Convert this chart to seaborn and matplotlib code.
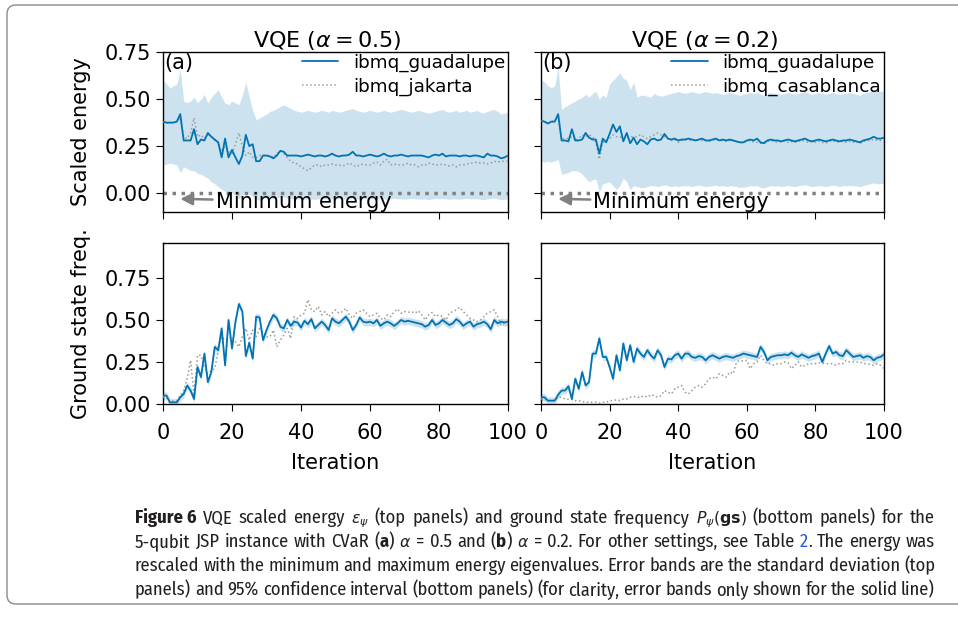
import matplotlib
matplotlib.use("Agg")
import matplotlib.pyplot as plt
import seaborn as sns
from matplotlib import font_manager
from matplotlib.patches import FancyBboxPatch
from matplotlib.lines import Line2D

# ---------------- data ----------------
iterations = list(range(101))

energy_a_guadalupe = [
    0.38, 0.375, 0.375, 0.375, 0.38, 0.42, 0.28, 0.28, 0.28, 0.34,
    0.26, 0.285, 0.28, 0.32, 0.30, 0.285, 0.27, 0.19, 0.29, 0.19,
    0.23, 0.19, 0.155, 0.20, 0.31, 0.25, 0.26, 0.17, 0.17, 0.20,
    0.20, 0.195, 0.185, 0.20, 0.225, 0.22, 0.20, 0.20, 0.20, 0.20,
    0.195, 0.20, 0.205, 0.20, 0.195, 0.20, 0.20, 0.195, 0.20, 0.21,
    0.20, 0.195, 0.20, 0.20, 0.205, 0.22, 0.20, 0.20, 0.195, 0.20,
    0.205, 0.20, 0.195, 0.20, 0.21, 0.20, 0.195, 0.20, 0.20, 0.205,
    0.20, 0.195, 0.20, 0.20, 0.20, 0.20, 0.195, 0.19, 0.20, 0.205,
    0.20, 0.21, 0.195, 0.20, 0.20, 0.20, 0.195, 0.20, 0.20, 0.195,
    0.20, 0.20, 0.195, 0.19, 0.21, 0.20, 0.20, 0.195, 0.185, 0.19,
    0.20]
energy_a_upper = [
    0.60, 0.58, 0.56, 0.57, 0.58, 0.66, 0.49, 0.48, 0.49, 0.51,
    0.48, 0.50, 0.525, 0.48, 0.51, 0.53, 0.55, 0.51, 0.48, 0.47,
    0.49, 0.48, 0.47, 0.52, 0.59, 0.51, 0.44, 0.39, 0.40, 0.41,
    0.42, 0.435, 0.44, 0.45, 0.46, 0.47, 0.46, 0.45, 0.44, 0.435,
    0.43, 0.435, 0.44, 0.435, 0.43, 0.435, 0.44, 0.435, 0.43, 0.44,
    0.435, 0.43, 0.435, 0.44, 0.445, 0.45, 0.44, 0.435, 0.43, 0.435,
    0.44, 0.435, 0.43, 0.435, 0.44, 0.435, 0.43, 0.435, 0.44, 0.445,
    0.44, 0.435, 0.43, 0.435, 0.44, 0.435, 0.43, 0.425, 0.43, 0.435,
    0.44, 0.445, 0.435, 0.43, 0.435, 0.44, 0.43, 0.435, 0.44, 0.43,
    0.435, 0.44, 0.43, 0.425, 0.435, 0.44, 0.445, 0.435, 0.42, 0.425,
    0.43]
energy_a_lower = [
    0.15, 0.155, 0.16, 0.155, 0.15, 0.11, 0.14, 0.13, 0.12, 0.12,
    0.105, 0.10, 0.09, 0.08, 0.06, 0.05, 0.035, 0.02, 0.01, 0.005,
    0.0, -0.01, -0.03, -0.01, 0.015, -0.005, -0.02, -0.03, -0.04, -0.03,
    -0.02, -0.025, -0.03, -0.025, -0.02, -0.02, -0.025, -0.03, -0.03, -0.03,
    -0.03, -0.032, -0.028, -0.03, -0.033, -0.03, -0.028, -0.03, -0.032, -0.03,
    -0.03, -0.028, -0.03, -0.032, -0.03, -0.025, -0.03, -0.032, -0.03, -0.028,
    -0.03, -0.032, -0.03, -0.028, -0.03, -0.033, -0.03, -0.028, -0.03, -0.03,
    -0.032, -0.03, -0.028, -0.03, -0.03, -0.032, -0.03, -0.035, -0.03, -0.028,
    -0.03, -0.028, -0.03, -0.032, -0.03, -0.03, -0.032, -0.03, -0.028, -0.03,
    -0.03, -0.03, -0.032, -0.035, -0.03, -0.028, -0.025, -0.03, -0.035, -0.033,
    -0.03]
energy_a_jakarta = [
    0.38, 0.375, 0.37, 0.375, 0.38, 0.40, 0.30, 0.29, 0.32, 0.40,
    0.30, 0.31, 0.29, 0.31, 0.30, 0.28, 0.27, 0.22, 0.25, 0.22,
    0.21, 0.26, 0.32, 0.25, 0.20, 0.22, 0.19, 0.19, 0.20, 0.20,
    0.20, 0.20, 0.19, 0.21, 0.225, 0.21, 0.19, 0.17, 0.16, 0.155,
    0.14, 0.13, 0.12, 0.135, 0.15, 0.15, 0.14, 0.15, 0.15, 0.155,
    0.15, 0.15, 0.145, 0.15, 0.16, 0.15, 0.14, 0.15, 0.155, 0.15,
    0.15, 0.16, 0.165, 0.15, 0.17, 0.18, 0.15, 0.155, 0.15, 0.15,
    0.15, 0.16, 0.15, 0.15, 0.14, 0.15, 0.15, 0.16, 0.155, 0.15,
    0.15, 0.155, 0.15, 0.145, 0.15, 0.14, 0.15, 0.15, 0.155, 0.16,
    0.16, 0.165, 0.16, 0.16, 0.155, 0.16, 0.17, 0.165, 0.17, 0.17,
    0.17]

energy_b_guadalupe = [
    0.385, 0.38, 0.37, 0.38, 0.38, 0.42, 0.28, 0.28, 0.275, 0.34,
    0.28, 0.28, 0.285, 0.32, 0.295, 0.285, 0.285, 0.21, 0.29, 0.27,
    0.315, 0.365, 0.325, 0.355, 0.275, 0.32, 0.265, 0.295, 0.26, 0.285,
    0.275, 0.26, 0.285, 0.29, 0.28, 0.285, 0.315, 0.29, 0.285, 0.29,
    0.28, 0.285, 0.285, 0.29, 0.285, 0.28, 0.285, 0.29, 0.28, 0.28,
    0.285, 0.29, 0.28, 0.285, 0.28, 0.285, 0.28, 0.275, 0.27, 0.27,
    0.28, 0.285, 0.28, 0.29, 0.27, 0.265, 0.28, 0.285, 0.28, 0.28,
    0.275, 0.28, 0.285, 0.28, 0.275, 0.28, 0.285, 0.29, 0.28, 0.275,
    0.28, 0.285, 0.28, 0.275, 0.28, 0.285, 0.28, 0.275, 0.28, 0.28,
    0.285, 0.28, 0.275, 0.27, 0.28, 0.285, 0.29, 0.30, 0.29, 0.29,
    0.295]
energy_b_upper = [
    0.605, 0.59, 0.57, 0.56, 0.57, 0.67, 0.445, 0.46, 0.47, 0.48,
    0.49, 0.50, 0.51, 0.525, 0.51, 0.53, 0.54, 0.50, 0.52, 0.51,
    0.58, 0.60, 0.62, 0.64, 0.61, 0.60, 0.55, 0.59, 0.51, 0.52,
    0.52, 0.515, 0.51, 0.53, 0.52, 0.515, 0.52, 0.525, 0.53, 0.535,
    0.54, 0.535, 0.53, 0.535, 0.54, 0.535, 0.53, 0.535, 0.54, 0.535,
    0.53, 0.535, 0.53, 0.525, 0.53, 0.535, 0.53, 0.525, 0.52, 0.525,
    0.53, 0.535, 0.53, 0.535, 0.525, 0.52, 0.53, 0.535, 0.53, 0.53,
    0.525, 0.53, 0.535, 0.53, 0.525, 0.53, 0.535, 0.54, 0.53, 0.525,
    0.53, 0.535, 0.53, 0.525, 0.53, 0.535, 0.53, 0.525, 0.53, 0.53,
    0.535, 0.53, 0.525, 0.52, 0.53, 0.535, 0.54, 0.55, 0.545, 0.54,
    0.545]
energy_b_lower = [
    0.17, 0.165, 0.17, 0.165, 0.17, 0.18, 0.10, 0.105, 0.11, 0.12,
    0.12, 0.115, 0.10, 0.08, 0.06, 0.07, 0.075, 0.005, 0.05, 0.055,
    0.06, 0.04, 0.02, 0.04, 0.08, 0.06, 0.02, 0.04, 0.035, 0.03,
    0.03, 0.035, 0.04, 0.04, 0.035, 0.04, 0.045, 0.04, 0.035, 0.04,
    0.035, 0.04, 0.038, 0.04, 0.035, 0.04, 0.042, 0.04, 0.035, 0.038,
    0.04, 0.042, 0.038, 0.04, 0.035, 0.04, 0.038, 0.035, 0.03, 0.032,
    0.035, 0.04, 0.038, 0.04, 0.03, 0.028, 0.035, 0.04, 0.038, 0.04,
    0.035, 0.038, 0.04, 0.038, 0.035, 0.04, 0.042, 0.045, 0.04, 0.035,
    0.038, 0.04, 0.038, 0.035, 0.04, 0.042, 0.04, 0.035, 0.04, 0.04,
    0.042, 0.04, 0.038, 0.035, 0.04, 0.045, 0.05, 0.055, 0.05, 0.05,
    0.055]
energy_b_casablanca = [
    0.385, 0.38, 0.37, 0.38, 0.385, 0.41, 0.29, 0.29, 0.29, 0.30,
    0.28, 0.29, 0.31, 0.30, 0.31, 0.30, 0.27, 0.18, 0.27, 0.28,
    0.29, 0.31, 0.30, 0.30, 0.29, 0.29, 0.30, 0.30, 0.30, 0.31,
    0.30, 0.29, 0.30, 0.31, 0.32, 0.31, 0.30, 0.29, 0.28, 0.285,
    0.27, 0.28, 0.285, 0.28, 0.28, 0.285, 0.28, 0.28, 0.28, 0.275,
    0.28, 0.285, 0.28, 0.28, 0.275, 0.28, 0.28, 0.275, 0.27, 0.27,
    0.275, 0.28, 0.27, 0.27, 0.265, 0.27, 0.275, 0.28, 0.275, 0.27,
    0.275, 0.28, 0.27, 0.275, 0.27, 0.275, 0.28, 0.275, 0.27, 0.275,
    0.27, 0.275, 0.27, 0.265, 0.275, 0.28, 0.27, 0.275, 0.275, 0.27,
    0.275, 0.27, 0.275, 0.265, 0.275, 0.28, 0.28, 0.285, 0.28, 0.28,
    0.285]

freq_a_guadalupe = [
    0.05, 0.05, 0.01, 0.01, 0.01, 0.04, 0.06, 0.11, 0.08, 0.03,
    0.22, 0.16, 0.30, 0.13, 0.19, 0.34, 0.32, 0.45, 0.23, 0.50,
    0.33, 0.49, 0.595, 0.55, 0.285, 0.365, 0.27, 0.52, 0.515, 0.38,
    0.44, 0.49, 0.53, 0.51, 0.46, 0.45, 0.50, 0.465, 0.49, 0.485,
    0.455, 0.495, 0.475, 0.505, 0.45, 0.47, 0.49, 0.47, 0.44, 0.51,
    0.49, 0.48, 0.50, 0.52, 0.49, 0.44, 0.47, 0.515, 0.49, 0.485,
    0.49, 0.48, 0.50, 0.465, 0.48, 0.49, 0.48, 0.465, 0.48, 0.50,
    0.49, 0.495, 0.49, 0.485, 0.48, 0.475, 0.46, 0.47, 0.50, 0.47,
    0.48, 0.50, 0.485, 0.47, 0.48, 0.505, 0.49, 0.465, 0.48, 0.49,
    0.46, 0.475, 0.48, 0.49, 0.475, 0.445, 0.50, 0.48, 0.49, 0.485,
    0.49]
freq_a_jakarta = [
    0.04, 0.04, 0.01, 0.02, 0.02, 0.05, 0.08, 0.15, 0.26, 0.05,
    0.29, 0.29, 0.22, 0.18, 0.20, 0.21, 0.32, 0.40, 0.38, 0.39,
    0.40, 0.37, 0.34, 0.40, 0.45, 0.38, 0.44, 0.40, 0.45, 0.43,
    0.40, 0.40, 0.44, 0.34, 0.38, 0.41, 0.45, 0.39, 0.52, 0.51,
    0.53, 0.54, 0.62, 0.56, 0.55, 0.58, 0.53, 0.55, 0.52, 0.54,
    0.56, 0.54, 0.55, 0.57, 0.53, 0.51, 0.54, 0.55, 0.56, 0.54,
    0.52, 0.53, 0.54, 0.51, 0.50, 0.53, 0.52, 0.55, 0.565, 0.54,
    0.55, 0.545, 0.55, 0.54, 0.555, 0.53, 0.50, 0.53, 0.545, 0.52,
    0.53, 0.52, 0.50, 0.54, 0.55, 0.56, 0.575, 0.55, 0.53, 0.51,
    0.50, 0.49, 0.50, 0.52, 0.54, 0.55, 0.56, 0.52, 0.47, 0.48,
    0.47]
freq_b_guadalupe = [
    0.04, 0.04, 0.02, 0.02, 0.02, 0.055, 0.08, 0.08, 0.105, 0.03,
    0.15, 0.09, 0.19, 0.11, 0.13, 0.30, 0.30, 0.39, 0.28, 0.28,
    0.22, 0.15, 0.29, 0.20, 0.36, 0.26, 0.35, 0.25, 0.33, 0.30,
    0.28, 0.32, 0.29, 0.27, 0.32, 0.29, 0.22, 0.27, 0.265, 0.29,
    0.30, 0.27, 0.30, 0.30, 0.28, 0.275, 0.285, 0.28, 0.26, 0.28,
    0.29, 0.28, 0.27, 0.28, 0.285, 0.28, 0.275, 0.285, 0.29, 0.30,
    0.295, 0.29, 0.285, 0.28, 0.34, 0.31, 0.26, 0.28, 0.285, 0.29,
    0.29, 0.295, 0.29, 0.305, 0.29, 0.28, 0.295, 0.285, 0.275, 0.285,
    0.29, 0.30, 0.25, 0.30, 0.345, 0.30, 0.31, 0.29, 0.285, 0.32,
    0.30, 0.28, 0.285, 0.29, 0.275, 0.285, 0.28, 0.26, 0.275, 0.28,
    0.295]
freq_b_casablanca = [
    0.03, 0.03, 0.02, 0.02, 0.02, 0.04, 0.04, 0.03, 0.03, 0.03,
    0.02, 0.02, 0.015, 0.01, 0.01, 0.01, 0.01, 0.005, 0.01, 0.01,
    0.02, 0.02, 0.025, 0.02, 0.03, 0.03, 0.04, 0.045, 0.04, 0.04,
    0.05, 0.04, 0.055, 0.05, 0.04, 0.05, 0.08, 0.07, 0.06, 0.09,
    0.10, 0.11, 0.07, 0.06, 0.08, 0.10, 0.11, 0.10, 0.12, 0.15,
    0.16, 0.15, 0.18, 0.17, 0.16, 0.19, 0.18, 0.25, 0.26, 0.255,
    0.26, 0.21, 0.24, 0.25, 0.29, 0.26, 0.24, 0.24, 0.23, 0.24,
    0.24, 0.25, 0.245, 0.21, 0.23, 0.25, 0.22, 0.23, 0.24, 0.24,
    0.24, 0.245, 0.245, 0.24, 0.24, 0.24, 0.23, 0.24, 0.24, 0.26,
    0.25, 0.25, 0.25, 0.25, 0.24, 0.24, 0.235, 0.23, 0.24, 0.23,
    0.21]
freq_ci_halfwidth = [0.022, 0.022]  # panel (a), panel (b)

panel_titles = ["VQE ($\\alpha = 0.5$)", "VQE ($\\alpha = 0.2$)"]
panel_tags = ["(a)", "(b)"]
series_names = [["ibmq_guadalupe", "ibmq_jakarta"],
                ["ibmq_guadalupe", "ibmq_casablanca"]]
xticks = [0, 20, 40, 60, 80, 100]
yticks = [0.00, 0.25, 0.50, 0.75]

# ---------------- style ----------------
sns.set_style("ticks")
plt.rcParams["font.family"] = ["DejaVu Sans"]
plt.rcParams["font.size"] = 15
plt.rcParams["text.color"] = "black"
plt.rcParams["axes.labelcolor"] = "black"
plt.rcParams["xtick.major.size"] = 5
plt.rcParams["ytick.major.size"] = 5
plt.rcParams["xtick.color"] = "black"
plt.rcParams["ytick.color"] = "black"
plt.rcParams["xtick.labelcolor"] = "black"
plt.rcParams["ytick.labelcolor"] = "black"
plt.rcParams["axes.edgecolor"] = "black"
plt.rcParams["axes.linewidth"] = 1.0

BLUE = "#0173b2"
GRAY = "#9a9a9a"

W, H = 958, 617
fig = plt.figure(figsize=(W / 100, H / 100), dpi=100)


def px_axes(x0, x1, ytop, ybot):
    return fig.add_axes([x0 / W, 1 - ybot / H, (x1 - x0) / W, (ybot - ytop) / H])


ax_tl = px_axes(163, 508, 52, 212)
ax_tr = px_axes(541, 884, 52, 212)
ax_bl = px_axes(163, 508, 243, 404)
ax_br = px_axes(541, 884, 243, 404)

top_axes = [ax_tl, ax_tr]
bot_axes = [ax_bl, ax_br]
energy_main = [energy_a_guadalupe, energy_b_guadalupe]
energy_other = [energy_a_jakarta, energy_b_casablanca]
energy_up = [energy_a_upper, energy_b_upper]
energy_lo = [energy_a_lower, energy_b_lower]
freq_main = [freq_a_guadalupe, freq_b_guadalupe]
freq_other = [freq_a_jakarta, freq_b_casablanca]

for k in range(2):
    ax = top_axes[k]
    ax.fill_between(iterations, energy_lo[k], energy_up[k], color=BLUE,
                    alpha=0.2, lw=0, zorder=1)
    ax.axhline(0, color="#808080", ls=(0, (1, 1.6)), lw=2.5, zorder=2)
    sns.lineplot(x=iterations, y=energy_other[k], ax=ax, color=GRAY,
                 lw=1.1, ls=":", legend=False, zorder=3)
    sns.lineplot(x=iterations, y=energy_main[k], ax=ax, color=BLUE,
                 lw=1.3, legend=False, zorder=4)
    ax.set_xlim(0, 100)
    ax.set_ylim(-0.1, 0.75)
    ax.set_yticks(yticks)
    ax.set_xticks(xticks)
    ax.tick_params(labelbottom=False, labelsize=15)
    ax.set_title(panel_titles[k], fontsize=16, pad=3, x=0.477)
    ax.text(0.005, 0.995, panel_tags[k], transform=ax.transAxes,
            ha="left", va="top", fontsize=15)
    handles = [Line2D([], [], color=BLUE, lw=1.3),
               Line2D([], [], color=GRAY, lw=1.1, ls=":")]
    ax.legend(handles, series_names[k], loc="upper right",
              bbox_to_anchor=(1.0, 1.008), frameon=False, fontsize=13.2,
              borderaxespad=0.0, borderpad=0.15, labelspacing=0.3,
              handlelength=2.0, handletextpad=0.8)
    ax.annotate("Minimum energy", xy=(5, -0.03), xytext=(15.3, -0.045),
                ha="left", va="center", fontsize=15,
                arrowprops=dict(arrowstyle="-|>", color="#808080", lw=1.8,
                                mutation_scale=18, shrinkA=0, shrinkB=0))
    ax.set_xlabel("")
    ax.set_ylabel("")

for k in range(2):
    ax = bot_axes[k]
    lo = [v - freq_ci_halfwidth[k] for v in freq_main[k]]
    hi = [v + freq_ci_halfwidth[k] for v in freq_main[k]]
    ax.fill_between(iterations, lo, hi, color=BLUE, alpha=0.2, lw=0, zorder=1)
    sns.lineplot(x=iterations, y=freq_other[k], ax=ax, color=GRAY,
                 lw=1.1, ls=":", legend=False, zorder=3)
    sns.lineplot(x=iterations, y=freq_main[k], ax=ax, color=BLUE,
                 lw=1.3, legend=False, zorder=4)
    ax.set_xlim(0, 100)
    ax.set_ylim(0, 0.958)
    ax.set_yticks(yticks)
    ax.set_xticks(xticks)
    ax.tick_params(labelsize=15)
    ax.tick_params(axis="x", pad=9)
    ax.set_xlabel("Iteration", fontsize=15, labelpad=7)
    ax.set_ylabel("")

ax_tr.tick_params(labelleft=False)
ax_br.tick_params(labelleft=False)
ax_tl.set_ylabel("Scaled energy", fontsize=15, labelpad=10)
ax_bl.set_ylabel("Ground state freq.", fontsize=15, labelpad=10)

# ---------------- caption box ----------------
box = FancyBboxPatch((0.07, (H - 604) / 100), 9.75, (604 - 5) / 100,
                     boxstyle="round,pad=0,rounding_size=0.09",
                     transform=fig.dpi_scale_trans, facecolor="none",
                     edgecolor="#8a8a8a", lw=1.0, clip_on=False)
fig.patches.append(box)

names = {f.name for f in font_manager.fontManager.ttflist}
cap_family = "DejaVu Sans"
for cand in ["Fira Sans Condensed", "Roboto Condensed", "Asap Condensed",
             "Archivo Narrow", "PT Sans Narrow", "Liberation Sans Narrow"]:
    if cand in names:
        cap_family = cand
        break
CAP_COLOR = "#231f20"

caption_lines = [
    [("Figure 6", "b", False), ("VQE", "n", True), ("scaled", "n", True),
     ("energy", "n", True), ("$\\epsilon_\\psi$", "m", True), ("(top", "n", True),
     ("panels)", "n", True), ("and", "n", True), ("ground", "n", True),
     ("state", "n", True), ("frequency", "n", True),
     ("$P_\\psi(\\mathbf{gs})$", "m", True), ("(bottom", "n", True),
     ("panels)", "n", True), ("for", "n", True), ("the", "n", True)],
    [("5-qubit", "n", False), ("JSP", "n", True), ("instance", "n", True),
     ("with", "n", True), ("CVaR", "n", True), ("(", "n", True), ("a", "b", False),
     (")", "n", False), ("$\\alpha$", "m", True), ("=", "n", True), ("0.5", "n", True),
     ("and", "n", True), ("(", "n", True), ("b", "b", False), (")", "n", False),
     ("$\\alpha$", "m", True), ("=", "n", True), ("0.2.", "n", True), ("For", "n", True),
     ("other", "n", True), ("settings,", "n", True), ("see", "n", True),
     ("Table", "n", True), ("2", "blue", True), (".", "n", False), ("The", "n", True),
     ("energy", "n", True), ("was", "n", True)],
    [(w, "n", i > 0) for i, w in enumerate(
        "rescaled with the minimum and maximum energy eigenvalues. Error bands "
        "are the standard deviation (top".split())],
    [(w, "n", i > 0) for i, w in enumerate(
        "panels) and 95% confidence interval (bottom panels) (for clarity, "
        "error bands only shown for the solid line)".split())],
]
caption_baselines = [523, 547, 571, 595]
cap_x0, cap_x1 = 135, 935

renderer = fig.canvas.get_renderer()


def make_token(txt, style, fs):
    size = fs * 0.85 if style == "m" else fs
    kw = dict(fontsize=size, color=CAP_COLOR, family=[cap_family, "DejaVu Sans"])
    if style == "b":
        kw["fontweight"] = "bold"
    if style == "blue":
        kw["color"] = "#2b55d9"
    t = fig.text(0, 0, txt, va="baseline", ha="left", **kw)
    w = t.get_window_extent(renderer).width
    return t, w


def measure_natural(tokens, fs):
    total = 0
    objs = []
    for txt, style, sp in tokens:
        t, w = make_token(txt, style, fs)
        objs.append((t, w, sp))
        total += w
    n_sp = sum(1 for _, _, sp in tokens if sp)
    return objs, total, n_sp


fs = 15.5
worst = 0
for tokens in caption_lines:
    objs, total, n_sp = measure_natural(tokens, fs)
    for t, _, _ in objs:
        t.remove()
    worst = max(worst, (total + n_sp * 0.2 * fs * 100 / 72) / (cap_x1 - cap_x0))
if worst > 1:
    fs = fs / worst

for tokens, yb in zip(caption_lines, caption_baselines):
    objs, total, n_sp = measure_natural(tokens, fs)
    gap = (cap_x1 - cap_x0 - total) / max(n_sp, 1)
    x = cap_x0
    for t, w, sp in objs:
        if sp:
            x += gap
        t.set_position((x / W, 1 - yb / H))
        x += w

fig.savefig("out.png", dpi=100)
